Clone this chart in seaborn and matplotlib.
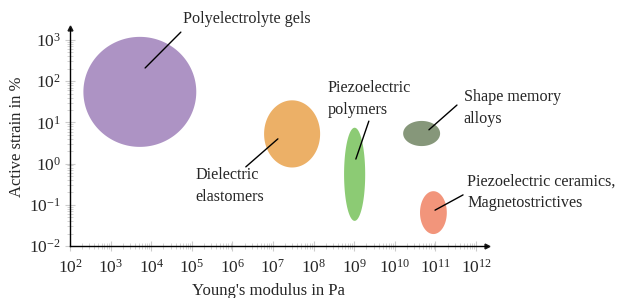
import numpy as np
import matplotlib
matplotlib.use("Agg")
import matplotlib.pyplot as plt
import matplotlib.ticker as mticker
import seaborn as sns

# material classes: centre and extent of each ellipse, in decades (log10)
materials = ["Polyelectrolyte gels", "Dielectric elastomers", "Piezoelectric polymers",
             "Shape memory alloys", "Piezoelectric ceramics"]
log_modulus = [3.72, 7.47, 9.01, 10.66, 10.95]      # log10(Pa)
log_strain = [1.74, 0.72, -0.26, 0.73, -1.19]       # log10(%)
width_dec = [2.78, 1.38, 0.52, 0.91, 0.66]
height_dec = [2.67, 1.63, 2.26, 0.61, 1.04]
colors = ["#ad93c4", "#ecb067", "#8ccb74", "#86977a", "#f2957b"]

# labels with leader lines (log10 coordinates)
labels = ["Polyelectrolyte gels", "Dielectric\nelastomers", "Piezoelectric\npolymers",
          "Shape memory\nalloys", "Piezoelectric ceramics,\nMagnetostrictives"]
label_x = [4.78, 5.10, 8.35, 11.70, 11.78]
label_y = [3.51, -0.54, 1.57, 1.35, -0.69]
line_x = [(3.85, 4.73), (6.33, 7.12), (9.36, 9.04), (11.53, 10.84), (11.68, 10.99)]
line_y = [(2.32, 3.19), (-0.08, 0.60), (1.03, 0.11), (1.42, 0.82), (-0.76, -1.13)]

sns.set_theme(style="white")
plt.rcParams["font.family"] = ["Liberation Serif", "DejaVu Serif"]
plt.rcParams["mathtext.fontset"] = "custom"
plt.rcParams["mathtext.rm"] = "Liberation Serif"

fig = plt.figure(figsize=(6.2, 2.98), dpi=100)
ax = fig.add_axes([70 / 620, 52 / 298, 417 / 620, 218 / 298])
ax.set_xscale("log")
ax.set_yscale("log")
ax.set_xlim(1e2, 10 ** 12.27)
ax.set_ylim(1e-2, 10 ** 3.29)

t = np.linspace(0, 2 * np.pi, 200)
for cx, cy, w, h, c in zip(log_modulus, log_strain, width_dec, height_dec, colors):
    ax.fill(10 ** (cx + w / 2 * np.cos(t)), 10 ** (cy + h / 2 * np.sin(t)),
            color=c, lw=0, zorder=2)

for txt, tx, ty, lx, ly in zip(labels, label_x, label_y, line_x, line_y):
    ax.plot(10 ** np.array(lx), 10 ** np.array(ly), color="black", lw=1, zorder=3)
    ax.text(10 ** tx, 10 ** ty, txt, ha="left", va="center", fontsize=11.6,
            linespacing=1.45, zorder=4)

sns.despine(ax=ax)
for s in ["left", "bottom"]:
    ax.spines[s].set_color("black")
    ax.spines[s].set_linewidth(1)
ax.plot(1, 0, ">k", ms=3.5, transform=ax.transAxes, clip_on=False)
ax.plot(0, 1, "^k", ms=3.5, transform=ax.transAxes, clip_on=False)

for axis in (ax.xaxis, ax.yaxis):
    axis.set_major_locator(mticker.LogLocator(base=10, numticks=30))
    axis.set_minor_locator(mticker.LogLocator(base=10, subs=np.arange(2, 10), numticks=30))
    axis.set_minor_formatter(mticker.NullFormatter())
ax.tick_params(axis="x", which="major", pad=6)
ax.tick_params(axis="y", which="major", pad=3)
ax.tick_params(which="major", direction="inout", length=7, width=0.8, color="#cccccc",
               labelsize=12.5, bottom=True, left=True)
ax.tick_params(which="minor", direction="inout", length=4, width=0.6, color="#cccccc",
               bottom=True, left=True)
ax.set_xticks([10.0 ** k for k in range(2, 13)])
ax.set_yticks([10.0 ** k for k in range(-2, 4)])

ax.set_xlabel("Young's modulus in Pa", fontsize=12)
ax.xaxis.set_label_coords(0.475, -0.17)
ax.set_ylabel("Active strain in %", fontsize=12)
ax.yaxis.set_label_coords(-0.108, 0.5)

fig.savefig("out.png", dpi=100)
